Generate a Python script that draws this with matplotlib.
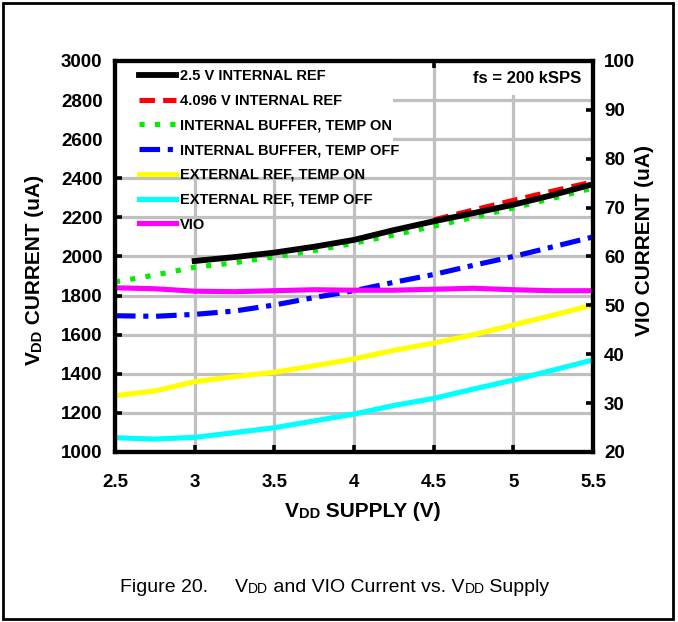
import matplotlib
matplotlib.use('Agg')
import matplotlib.pyplot as plt
from matplotlib.patches import Rectangle

plt.rcParams['font.family'] = ['Liberation Sans Narrow', 'Liberation Sans', 'DejaVu Sans']

# supply voltage sweep (V)
vdd = [2.5, 2.75, 3.0, 3.25, 3.5, 3.75, 4.0, 4.25, 4.5, 4.75, 5.0, 5.25, 5.5]

# VDD current (uA) per configuration
vdd_25ref = [1977, 1997, 2020, 2050, 2085, 2135, 2180, 2222, 2265, 2315, 2370]      # from 3.0 V
vdd_4096ref = [2187, 2238, 2287, 2335, 2382]                                        # from 4.5 V
buf_temp_on = [1870, 1905, 1945, 1968, 1998, 2030, 2068, 2110, 2155, 2200, 2248, 2298, 2350]
buf_temp_off = [1697, 1694, 1704, 1721, 1752, 1790, 1825, 1868, 1908, 1955, 2000, 2050, 2100]
ext_temp_on = [1288, 1312, 1360, 1385, 1408, 1441, 1476, 1520, 1557, 1600, 1650, 1700, 1752]
ext_temp_off = [1073, 1066, 1075, 1099, 1124, 1159, 1194, 1238, 1274, 1322, 1368, 1419, 1471]

# VIO current (uA), right axis
vio = [53.6, 53.4, 52.9, 52.8, 53.0, 53.2, 53.1, 53.1, 53.3, 53.5, 53.2, 53.0, 53.0]

fig = plt.figure(figsize=(6.78, 6.22), dpi=100)
ax = fig.add_axes([115 / 678, 1 - 452 / 622, 478 / 678, 391 / 622])
ax2 = ax.twinx()

lw = 3.7
h1, = ax.plot(vdd[2:], vdd_25ref, color='black', lw=4.2, zorder=3, label='2.5 V INTERNAL REF')
h2, = ax.plot(vdd[8:], vdd_4096ref, color='red', lw=lw, ls=(0, (3, 1.6)), zorder=2.5,
              label='4.096 V INTERNAL REF')
h3, = ax.plot(vdd, buf_temp_on, color='#00ee00', lw=lw, ls=(0, (1, 2)), zorder=2.8,
              label='INTERNAL BUFFER, TEMP ON')
h4, = ax.plot(vdd, buf_temp_off, color='#0000ff', lw=lw, ls=(0, (4, 1.5, 1, 1.5)), zorder=2.6,
              label='INTERNAL BUFFER, TEMP OFF')
h5, = ax.plot(vdd, ext_temp_on, color='#ffff00', lw=lw, zorder=2.4, label='EXTERNAL REF, TEMP ON')
h6, = ax.plot(vdd, ext_temp_off, color='#00ffff', lw=lw, zorder=2.4, label='EXTERNAL REF, TEMP OFF')
h7, = ax2.plot(vdd, vio, color='#ff00ff', lw=lw, label='VIO')

ax.set_xlim(2.5, 5.5)
ax.set_ylim(1000, 3000)
ax2.set_ylim(20, 100)
ax.set_xticks([2.5, 3, 3.5, 4, 4.5, 5, 5.5])
ax.set_xticklabels(['2.5', '3', '3.5', '4', '4.5', '5', '5.5'])
ax.set_yticks(range(1000, 3001, 200))
ax2.set_yticks(range(20, 101, 10))

ax.set_axisbelow(True)
ax.grid(True, color='#c0c0c0', lw=2.3)

# white areas behind the legend and the fs note hide the grid
ax.add_patch(Rectangle((0, 0.71), 0.582, 0.29, transform=ax.transAxes,
                       facecolor='white', edgecolor='none', zorder=1))
ax.add_patch(Rectangle((0.74, 0.913), 0.26, 0.087, transform=ax.transAxes,
                       facecolor='white', edgecolor='none', zorder=1))

for a in (ax, ax2):
    for s in a.spines.values():
        s.set_linewidth(3)
        s.set_color('black')
ax.tick_params(axis='both', direction='in', length=5, width=2.6, labelsize=13.5,
               top=True, right=False)
ax.tick_params(axis='x', pad=16)
ax.tick_params(axis='y', pad=9)
ax2.tick_params(axis='y', direction='in', length=5, width=2.6, labelsize=13.5, pad=8)
for lab in ax.get_xticklabels() + ax.get_yticklabels() + ax2.get_yticklabels():
    lab.set_fontweight('bold')

ax2.legend(handles=[h1, h2, h3, h4, h5, h6, h7], loc='upper left',
           bbox_to_anchor=(0.05, 0.98), frameon=False, borderpad=0, borderaxespad=0,
           handlelength=2.54, handletextpad=0.27, labelspacing=0.74,
           prop={'weight': 'bold', 'size': 10.5})

ax.text(0.975, 0.955, 'fs = 200 kSPS', transform=ax.transAxes, ha='right', va='center',
        fontsize=12, fontweight='bold', zorder=5)


def chain(pieces, x, y, rotation=0, weight='bold'):
    # pieces: (text, size); laid out one after another so "DD" can be small
    first = fig.text(x, y, pieces[0][0], fontsize=pieces[0][1], fontweight=weight,
                     rotation=rotation, ha='left' if rotation == 0 else 'right',
                     va='bottom')
    prev = first
    for txt, size in pieces[1:]:
        if rotation == 0:
            prev = ax.annotate(txt, xy=(1, 0), xycoords=prev, ha='left', va='bottom',
                               fontsize=size, fontweight=weight, annotation_clip=False)
        else:
            prev = ax.annotate(txt, xy=(1, 1), xycoords=prev, ha='right', va='bottom',
                               rotation=90, fontsize=size, fontweight=weight,
                               annotation_clip=False)
    return first


chain([('V', 15), ('DD', 10.5), (' CURRENT (uA)', 15)], 44 / 678, 1 - 365 / 622, rotation=90)
chain([('V', 15), ('DD', 10.5), (' SUPPLY (V)', 15)], 285 / 678, 1 - 521 / 622)
fig.text(645 / 678, 1 - 241 / 622, 'VIO CURRENT (uA)', rotation=90, ha='center', va='center',
         fontsize=15, fontweight='bold')
chain([('Figure 20.     V', 14), ('DD', 10), (' and VIO Current vs. V', 14), ('DD', 10),
       (' Supply', 14)], 120 / 678, 1 - 596 / 622, weight='normal')

fig.patches.append(Rectangle((3 / 678, 3 / 622), 670 / 678, 616 / 622, transform=fig.transFigure,
                             fill=False, edgecolor='black', lw=2))

fig.savefig('out.png', dpi=100)
